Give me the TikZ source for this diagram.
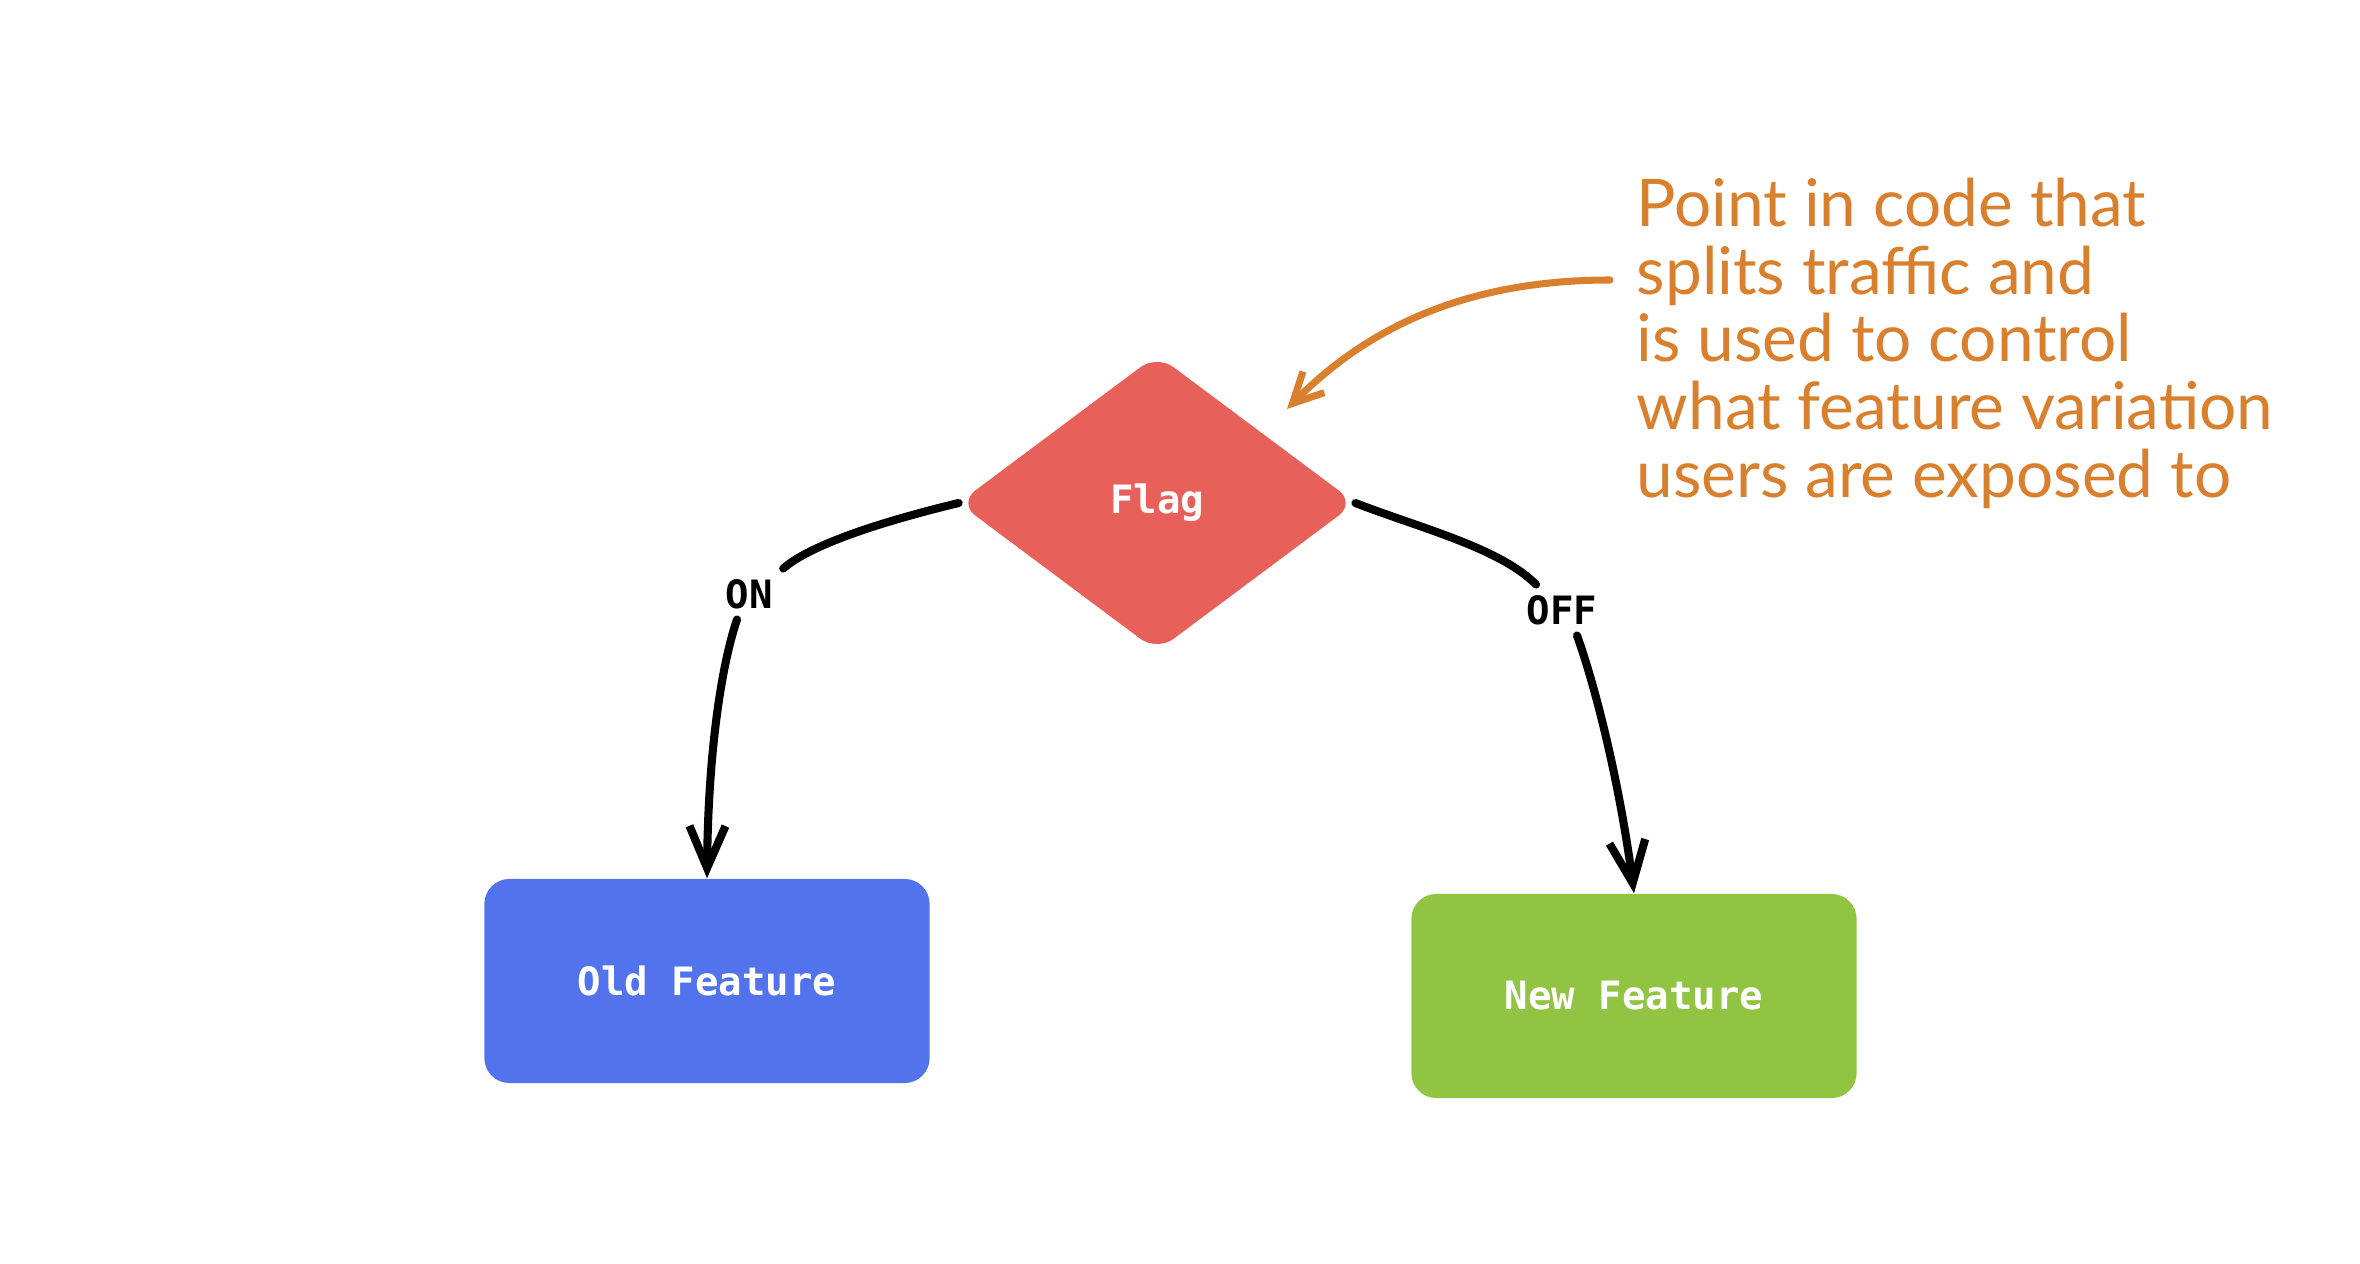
\documentclass[tikz,border=0pt]{standalone}
\usepackage{fontspec}
\setmainfont{Lato}
\newfontfamily\flagmono{DejaVu Sans Mono}
\usetikzlibrary{positioning,
        shapes.geometric,
        arrows.meta}
\usepackage{xcolor}
\definecolor{flagred}{RGB}{232,96,90}
\definecolor{oldblue}{RGB}{82,115,236}
\definecolor{newgreen}{RGB}{146,196,68}
\definecolor{noteorange}{RGB}{217,128,46}

\begin{document}
\begin{tikzpicture}[x=0.01cm,y=-0.01cm,
        decision/.style={diamond,fill=flagred,draw=flagred,rounded corners=0.2cm,minimum width=3.95cm,minimum height=2.95cm,inner sep=0pt,text=white,font=\flagmono\bfseries\fontsize{11.1pt}{13pt}\selectfont},
        feature/.style={rectangle,rounded corners=0.25cm,minimum width=4.45cm,minimum height=2.04cm,text=white,font=\flagmono\bfseries\fontsize{11.1pt}{13pt}\selectfont},
        branch/.style={font=\flagmono\bfseries\fontsize{11.1pt}{13pt}\selectfont,inner sep=0.1cm},
        flow/.style={line width=2.3pt,line cap=round},
        barb/.style={-{Straight Barb[length=0.42cm,width=0.36cm]}}]
            \useasboundingbox (0,0) rectangle (2360,1264);

            \node [decision] (flag) at (1157,503) {Flag};
            \node [feature,fill=oldblue] (old) at (707,981) {Old Feature};
            \node [feature,fill=newgreen] (new) at (1634,996) {New Feature};
            \node [branch] (on) at (749,594) {ON};
            \node [branch] (off) at (1562,610) {OFF};
            \node [anchor=north west,inner sep=0pt,align=left,text=noteorange,font=\fontsize{18.7pt}{19.3pt}\selectfont] (note) at (1636,177) {Point in code that\\splits traffic and\\is used to control\\what feature variation\\users are exposed to};
            \coordinate (cue) at (1610,280);
            \coordinate (tip) at (1287,409);

            \draw [flow] (flag.west) .. controls (880,522) and (810,545) .. (on.north east);
            \draw [flow,barb] ([xshift=-0.12cm]on.south) .. controls (720,670) and (708,760) .. (old.north);
            \draw [flow] (flag.east) .. controls (1420,528) and (1500,548) .. ([xshift=0.2cm]off.north west);
            \draw [flow,barb] ([xshift=0.15cm]off.south) .. controls (1600,700) and (1622,800) .. (new.north);
            \draw [line width=2pt,line cap=round,noteorange,-{Straight Barb[length=0.3cm,width=0.3cm]}] (cue) .. controls (1470,280) and (1370,325) .. (tip);
\end{tikzpicture}
\end{document}
